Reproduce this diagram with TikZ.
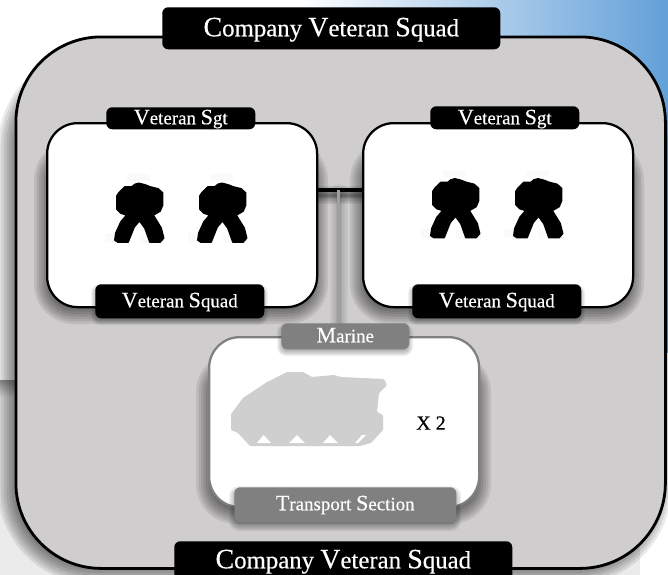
\documentclass[tikz,border=0pt]{standalone}
\usepackage{fontspec}
\setmainfont{Liberation Serif}
\newfontfamily\heavy[FakeBold=0.35]{Liberation Serif}
\definecolor{boxgray}{HTML}{CFCDCE}
\definecolor{midgray}{HTML}{808080}
\definecolor{tankgray}{HTML}{CFCFCF}
\definecolor{skyblue}{HTML}{62A0D8}
\definecolor{skymid}{HTML}{B4D0EA}
\newcommand{\BG}[1]{{\fontsize{21pt}{21pt}\selectfont #1}}
\newcommand{\SM}[1]{{\fontsize{16.5pt}{16pt}\selectfont #1}}
% soft shadow: x1 y1 x2 y2 radius blur strength
\newcommand{\softshadow}[7]{%
  \foreach \e in {-1,-0.75,...,1}{%
    \pgfmathsetmacro{\ee}{\e*#6}%
    \pgfmathsetmacro{\rr}{max(0,#5+\ee)}%
    \fill[black,opacity=#7,rounded corners={\rr*0.75pt}]
      ({#1-\ee},{#2-\ee}) rectangle ({#3+\ee},{#4+\ee});
  }}
\newcommand{\soldier}[2]{%
  \begin{scope}[shift={(#1,#2)}]
    \fill[black!2] (27,9) rectangle ++(23,7);
    \fill[black!2] (5,68) rectangle ++(10,9);
    \fill[black!2] (40,69) rectangle ++(25,9);
    \filldraw[black,line width=1.4pt,line join=round]
      (39,18.5) -- (35,19.5) -- (32,22) -- (25,22) -- (19,28) -- (17,31) -- (17,44) -- (21,48) -- (27,50)
      -- (21,57) -- (16,68) -- (15,75) -- (18,77) -- (28,77) -- (34,62) -- (39.5,55.5)
      -- (45,63) -- (50,77) -- (60,77) -- (63.5,73) -- (61,63) -- (53,50)
      -- (60,46) -- (62.5,40) -- (62.5,28) -- (58,24) -- (50,22) -- (45,20) -- cycle;
  \end{scope}}
\tikzset{
  x=0.75pt,y=-0.75pt,
  outerbox/.style={draw=black,line width=2.1pt,fill=boxgray,rounded corners=64pt,inner sep=0pt},
  innerbox/.style={draw=black,line width=1.7pt,fill=white,rounded corners=23pt,inner sep=0pt},
  transbox/.style={innerbox,draw=midgray},
  tag/.style={fill=black,text=white,rounded corners=4.5pt,inner sep=0pt,align=center},
  greytag/.style={tag,fill=midgray},
  bigtext/.style={font=\heavy\fontsize{18.6pt}{20pt}\selectfont},
  smalltext/.style={font=\heavy\fontsize{14.2pt}{16pt}\selectfont},
}
\newcommand{\boxat}[7]{% style name x1 y1 x2 y2 text
  \node[#1,anchor=north west,minimum width={(#5-#3)*0.75pt},minimum height={(#6-#4)*0.75pt}] (#2) at (#3,#4) {#7};}
\newcommand{\tagat}[9]{% style name x1 y1 x2 y2 h d text
  \node[#1,anchor=north west,minimum width={(#5-#3)*0.75pt},text height={#7*0.75pt},text depth={#8*0.75pt}] (#2) at (#3,#4) {#9};}
\begin{document}
\begin{tikzpicture}
\useasboundingbox (0,0) rectangle (668,575);
\clip (0,0) rectangle (668,575);
% background
\fill[white] (0,0) rectangle (668,575);
\fill[black!8] (0,380) rectangle (668,575);
\fill[white] (640,352) rectangle (668,575);
\shade[left color=white,middle color=skymid,right color=skyblue] (300,0) rectangle (668,352);
\shade[top color=black!42,bottom color=black!8] (0,380) rectangle (16,397);
% outer box
\softshadow{9}{62}{660}{573}{85}{11}{0.085}
\boxat{outerbox}{outer}{14.5}{35.5}{664}{567}{}
\tagat{tag,bigtext}{toptag}{162}{7}{500}{49}{29}{13}{\BG{C}ompany \BG{V}eteran \BG{S}quad}
\tagat{tag,bigtext}{bottag}{174}{541}{512}{583}{27}{15}{\BG{C}ompany \BG{V}eteran \BG{S}quad}
% connectors and their shadows
\coordinate (jn) at (338.5,190);
\softshadow{310}{192}{368}{198}{2}{6}{0.07}
\softshadow{336}{190}{342}{330}{2}{6}{0.03}
% inner shadows
\softshadow{44}{150}{318}{314}{30}{10}{0.085}
\softshadow{360}{150}{634}{314}{30}{10}{0.085}
\softshadow{206}{362}{481}{514}{30}{10}{0.085}
% inner boxes
\boxat{innerbox}{leftbox}{46}{122}{316}{306}{}
\boxat{innerbox}{rightbox}{362}{122}{632}{306}{}
\boxat{transbox}{transport}{208}{336}{478}{506}{}
\draw[black,line width=2.4pt] (jn -| leftbox.east) -- (jn -| rightbox.west);
% icons
\soldier{100}{165}
\soldier{183}{165}
\soldier{416}{160.5}
\soldier{499}{160.5}
% tank
\fill[tankgray,rounded corners=0.8pt]
  (231,423) -- (231,414) -- (243,398) -- (267,382) -- (287,372) -- (303,372) -- (312,377) -- (334,375)
  -- (341,377) -- (384,379) -- (387,385) -- (379,393) -- (377,412) -- (383,415) -- (383,430)
  -- (371,443) -- (360,446) -- (250,446) -- (238,433) -- (231,430) -- cycle;
\fill[white] (257,443) -- (263.5,435) -- (271,443) -- cycle;
\fill[white] (289,443) -- (297,435) -- (305,443) -- cycle;
\fill[white] (323,443) -- (330,435) -- (338,443) -- cycle;
\fill[white] (355,443) -- (362,435) -- (366,435) -- (358,443) -- cycle;
\node[font=\heavy\fontsize{15pt}{16pt}\selectfont,inner sep=0pt,text=black] (times) at (431,423) {X 2};
% tag shadows
\softshadow{95}{288}{264}{321}{5}{4}{0.05}
\softshadow{412}{288}{581}{321}{5}{4}{0.05}
\softshadow{281}{327}{409}{352}{5}{4}{0.05}
\softshadow{234}{491}{456}{526}{5}{5}{0.06}
% tags
\draw[midgray!60!boxgray,line width=2.2pt] (jn) -- (jn |- 0,323);
\tagat{tag,smalltext}{lsgt}{106}{107}{255}{129}{17}{5}{\SM{V}eteran \SM{S}gt}
\tagat{tag,smalltext}{rsgt}{430}{106}{579}{129}{18}{5}{\SM{V}eteran \SM{S}gt}
\tagat{tag,smalltext}{lsq}{95}{284}{264}{318}{23}{11}{\SM{V}eteran \SM{S}quad}
\tagat{tag,smalltext}{rsq}{412}{284}{581}{318}{23}{11}{\SM{V}eteran \SM{S}quad}
\tagat{greytag,smalltext}{marine}{281}{323}{409}{349}{19}{7}{\SM{M}arine}
\tagat{greytag,smalltext}{tsect}{234}{487}{456}{522}{23}{12}{\SM{T}ransport \SM{S}ection}
\end{tikzpicture}
\end{document}
